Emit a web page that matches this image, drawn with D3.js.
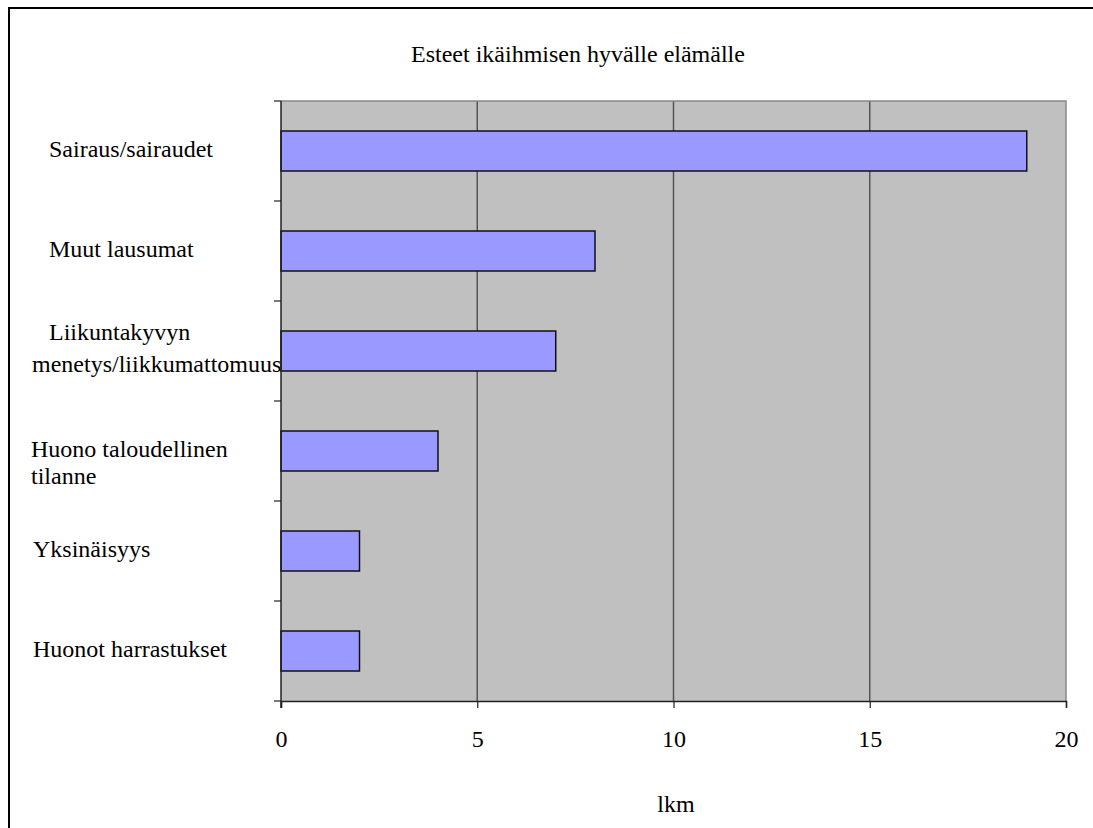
<!DOCTYPE html>
<html>
<head>
<meta charset="utf-8">
<script src="https://cdn.jsdelivr.net/npm/d3@7"></script>
<style>
  html, body { margin: 0; padding: 0; background: #fff; }
  svg { display: block; }
  text { font-family: "Liberation Serif", "Times New Roman", serif; fill: #000; }
</style>
</head>
<body>
<svg id="chart" width="1093" height="828"></svg>
<script>
// Chart content
const chartTitle = "Esteet ikäihmisen hyvälle elämälle";
const axisTitle = "lkm";
const categories = [
  "Sairaus/sairaudet",
  "Muut lausumat",
  "Liikuntakyvyn menetys/liikkumattomuus",
  "Huono taloudellinen tilanne",
  "Yksinäisyys",
  "Huonot harrastukset"
];
const counts = [19, 8, 7, 4, 2, 2];
const xTicks = [0, 5, 10, 15, 20];

// How each category label is broken into lines, with per-line placement
// (dx = left edge, dy = baseline offset from the slot centre)
const labelLayout = {
  "Sairaus/sairaudet": [{ t: "Sairaus/sairaudet", dx: 49, dy: 6 }],
  "Muut lausumat": [{ t: "Muut lausumat", dx: 49, dy: 6 }],
  "Liikuntakyvyn menetys/liikkumattomuus": [
    { t: "Liikuntakyvyn", dx: 49, dy: -11 },
    { t: "menetys/liikkumattomuus", dx: 32, dy: 21 }
  ],
  "Huono taloudellinen tilanne": [
    { t: "Huono taloudellinen", dx: 31, dy: 6 },
    { t: "tilanne", dx: 31, dy: 33 }
  ],
  "Yksinäisyys": [{ t: "Yksinäisyys", dx: 33, dy: 6 }],
  "Huonot harrastukset": [{ t: "Huonot harrastukset", dx: 33, dy: 6 }]
};

const svg = d3.select("#chart");
const plot = { left: 281, right: 1066, top: 101, bottom: 701 };
const fontSize = 24;

// Outer frame (runs off the right and bottom edges)
svg.append("rect")
  .attr("x", 9).attr("y", 8)
  .attr("width", 1200).attr("height", 1000)
  .attr("fill", "#fff")
  .attr("stroke", "#000").attr("stroke-width", 2);

const x = d3.scaleLinear().domain([0, 20]).range([plot.left, plot.right]);
const y = d3.scaleBand().domain(categories).range([plot.top, plot.bottom]).padding(0);
const barH = y.bandwidth() * 0.4;

// Category labels (drawn first so the plot area sits on top of any overhang)
const lab = svg.append("g").attr("font-size", fontSize);
categories.forEach(c => {
  const cy = y(c) + y.bandwidth() / 2;
  labelLayout[c].forEach(l => {
    lab.append("text").attr("x", l.dx).attr("y", cy + l.dy).text(l.t);
  });
});

// Plot background
svg.append("rect")
  .attr("x", plot.left).attr("y", plot.top)
  .attr("width", plot.right - plot.left).attr("height", plot.bottom - plot.top)
  .attr("fill", "#c0c0c0");

// Vertical gridlines
svg.append("g").selectAll("line")
  .data(xTicks.filter(v => v > 0 && v < 20))
  .join("line")
  .attr("x1", d => x(d)).attr("x2", d => x(d))
  .attr("y1", plot.top).attr("y2", plot.bottom)
  .attr("stroke", "#555").attr("stroke-width", 1.5);

// Plot border (top and right)
svg.append("path")
  .attr("d", `M${plot.left},${plot.top}H${plot.right}V${plot.bottom}`)
  .attr("fill", "none").attr("stroke", "#888").attr("stroke-width", 1.5);

// Bars
svg.append("g").selectAll("rect")
  .data(categories.map((c, i) => ({ c, v: counts[i] })))
  .join("rect")
  .attr("x", x(0))
  .attr("y", d => y(d.c) + (y.bandwidth() - barH) / 2)
  .attr("width", d => x(d.v) - x(0))
  .attr("height", barH)
  .attr("fill", "#9999ff")
  .attr("stroke", "#111").attr("stroke-width", 1.5);

// Category axis: line plus tick marks at slot boundaries
const boundaries = categories.map(c => y(c)).concat([plot.bottom]);
const yAxis = svg.append("g");
yAxis.append("line")
  .attr("x1", plot.left).attr("x2", plot.left)
  .attr("y1", plot.top).attr("y2", plot.bottom + 7)
  .attr("stroke", "#222").attr("stroke-width", 1.5);
yAxis.selectAll("line.tick")
  .data(boundaries)
  .join("line").attr("class", "tick")
  .attr("x1", plot.left - 7).attr("x2", plot.left)
  .attr("y1", d => d).attr("y2", d => d)
  .attr("stroke", "#222").attr("stroke-width", 1.2);

// Value axis
const xAxis = svg.append("g")
  .attr("transform", `translate(0,${plot.bottom})`)
  .call(d3.axisBottom(x).tickValues(xTicks).tickSize(7).tickPadding(22).tickFormat(d3.format("d")));
xAxis.select(".domain").attr("stroke", "#222").attr("stroke-width", 1.5);
xAxis.selectAll(".tick line").attr("stroke", "#222").attr("stroke-width", 1.2);
xAxis.selectAll(".tick text")
  .attr("font-size", fontSize)
  .attr("font-family", "'Liberation Serif', 'Times New Roman', serif")
  .attr("fill", "#000");

// Titles
svg.append("text")
  .attr("x", 578).attr("y", 62)
  .attr("text-anchor", "middle").attr("font-size", fontSize)
  .text(chartTitle);
svg.append("text")
  .attr("x", 676).attr("y", 812)
  .attr("text-anchor", "middle").attr("font-size", fontSize)
  .text(axisTitle);
</script>
</body>
</html>
